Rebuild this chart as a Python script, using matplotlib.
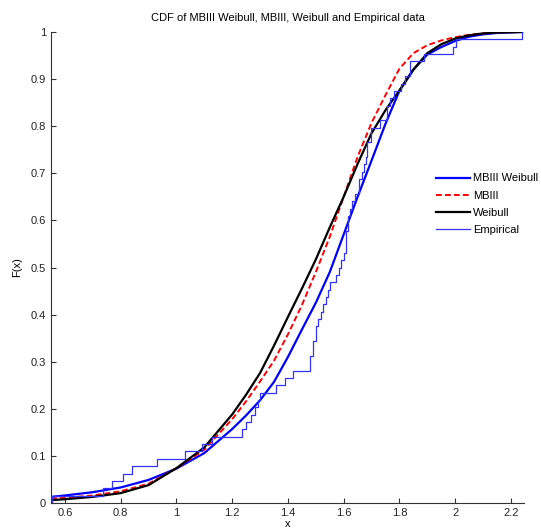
import matplotlib
matplotlib.use("Agg")
import matplotlib.pyplot as plt
import numpy as np

plt.rcParams['font.family'] = ['Liberation Sans', 'DejaVu Sans']

# sorted sample values
samples = [0.555, 0.736, 0.768, 0.809, 0.839, 0.929, 1.030, 1.090, 1.126,
           1.235, 1.250, 1.269, 1.281, 1.292, 1.300, 1.359, 1.389, 1.418,
           1.478, 1.478, 1.490, 1.490, 1.502, 1.502, 1.508, 1.518, 1.526,
           1.535, 1.545, 1.550, 1.574, 1.583, 1.592, 1.600, 1.607, 1.607,
           1.607, 1.615, 1.615, 1.621, 1.631, 1.639, 1.655, 1.655, 1.666,
           1.673, 1.679, 1.683, 1.683, 1.699, 1.699, 1.729, 1.755, 1.755,
           1.765, 1.779, 1.807, 1.819, 1.837, 1.837, 1.888, 1.994, 2.004,
           2.240]

# fitted CDF curves, values read at these x
curve_x = [0.55, 0.6, 0.7, 0.8, 0.9, 1.0, 1.1, 1.2, 1.25, 1.3, 1.35, 1.4,
           1.45, 1.5, 1.55, 1.6, 1.65, 1.7, 1.75, 1.8, 1.85, 1.9, 1.95, 2.0,
           2.05, 2.1, 2.15, 2.24]
mbiii_weibull = [0.013, 0.016, 0.023, 0.033, 0.049, 0.073, 0.106, 0.157,
                 0.186, 0.218, 0.257, 0.31, 0.368, 0.425, 0.49, 0.57, 0.65,
                 0.727, 0.805, 0.875, 0.92, 0.952, 0.968, 0.981, 0.99,
                 0.995, 0.998, 1.0]
mbiii = [0.009, 0.011, 0.016, 0.025, 0.041, 0.074, 0.113, 0.178, 0.216,
         0.258, 0.302, 0.358, 0.42, 0.49, 0.565, 0.65, 0.735, 0.807, 0.866,
         0.922, 0.955, 0.972, 0.982, 0.989, 0.994, 0.997, 0.999, 1.0]
weibull = [0.006, 0.008, 0.013, 0.021, 0.038, 0.074, 0.118, 0.188, 0.230,
           0.276, 0.334, 0.395, 0.455, 0.517, 0.585, 0.65, 0.72, 0.785,
           0.834, 0.876, 0.92, 0.955, 0.974, 0.986, 0.993, 0.997, 0.999,
           1.0]

xs = np.sort(np.array(samples))
n = len(xs)
ecdf_x = np.concatenate([[xs[0]], xs])
ecdf_y = np.concatenate([[0.0], np.arange(1, n + 1) / n])

fig = plt.figure(figsize=(5.41, 5.31), dpi=100)
ax = fig.add_axes([51 / 541, 1 - 503 / 531, 473 / 541, 471 / 531])

ax.plot(curve_x, mbiii_weibull, color='#0000ff', lw=1.6, label='MBIII Weibull')
ax.plot(curve_x, mbiii, color='#ff0000', lw=1.4, ls=(0, (3, 1.6)), label='MBIII')
ax.plot(curve_x, weibull, color='black', lw=1.6, label='Weibull')
ax.step(ecdf_x, ecdf_y, where='post', color='#3333ff', lw=0.9, label='Empirical')

ax.set_xlim(0.55, 2.247)
ax.set_ylim(0, 1)
ax.set_xticks([0.6, 0.8, 1.0, 1.2, 1.4, 1.6, 1.8, 2.0, 2.2])
ax.set_xticklabels(['0.6', '0.8', '1', '1.2', '1.4', '1.6', '1.8', '2', '2.2'])
ax.set_yticks(np.arange(0, 1.01, 0.1))
ax.set_yticklabels(['0', '0.1', '0.2', '0.3', '0.4', '0.5', '0.6', '0.7',
                    '0.8', '0.9', '1'])
for s in ['top', 'right']:
    ax.spines[s].set_visible(False)
for s in ['left', 'bottom']:
    ax.spines[s].set_color('#333333')
    ax.spines[s].set_linewidth(0.8)
ax.tick_params(direction='in', length=3.5, width=0.8, colors='#333333',
               labelcolor='#222222', labelsize=8)

ax.set_title('CDF of MBIII Weibull, MBIII, Weibull and Empirical data',
             fontsize=8, pad=8)
ax.set_xlabel('x', fontsize=8, labelpad=1)
ax.set_ylabel('F(x)', fontsize=8, labelpad=6)

ax.legend(loc='upper left', bbox_to_anchor=(432 / 541, 1 - 169 / 531),
          bbox_transform=fig.transFigure, frameon=False, fontsize=8,
          handlelength=3.0, handletextpad=0.3, labelspacing=0.65,
          borderaxespad=0)

fig.savefig('out.png', dpi=100)
